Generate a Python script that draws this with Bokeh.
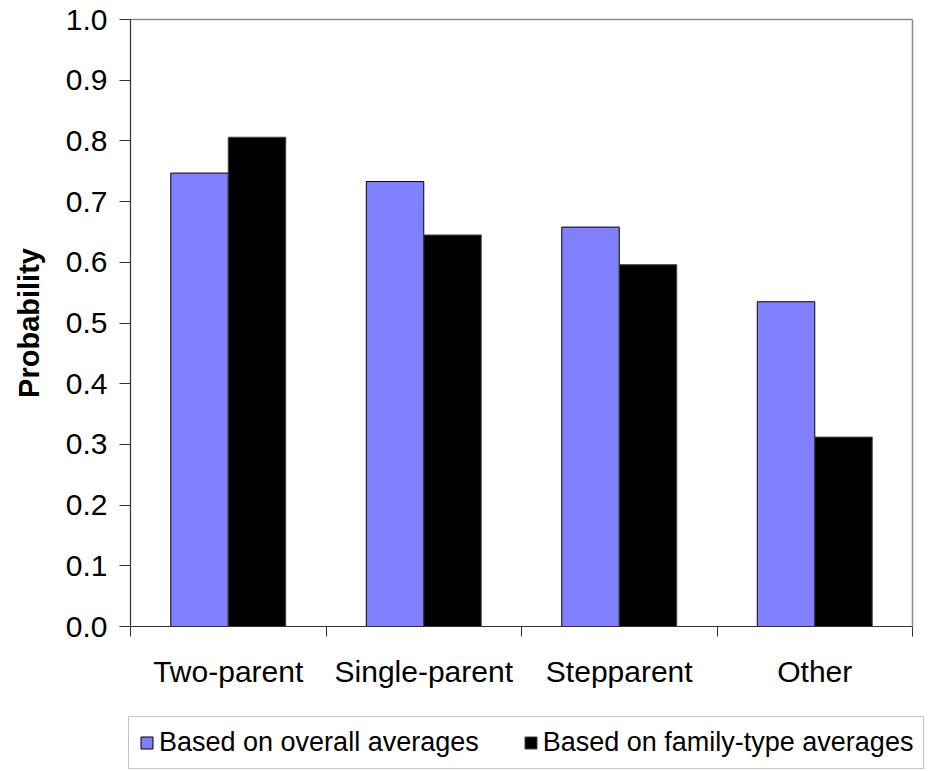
import math
from bokeh.plotting import figure
from bokeh.models import (Range1d, FixedTicker, NumeralTickFormatter, Legend,
                          LegendItem, ColumnDataSource, LinearAxis, Label)
from bokeh.embed import file_html
from bokeh.resources import INLINE

# ---- data ----
categories = ["Two-parent", "Single-parent", "Stepparent", "Other"]
overall_avg = [0.747, 0.733, 0.658, 0.535]
family_type_avg = [0.806, 0.645, 0.596, 0.312]
series_names = ["Based on overall averages", "Based on family-type averages"]
y_ticks = [0.0, 0.1, 0.2, 0.3, 0.4, 0.5, 0.6, 0.7, 0.8, 0.9, 1.0]
y_title = "Probability"

FONT = "Liberation Sans"
BAR_W = 0.294
BLUE = "#8080FF"
GRAY = "#8c8c8c"
DARK = "#333333"

n = len(categories)
centers = [i + 0.5 for i in range(n)]
bounds = [float(i) for i in range(n + 1)]
y_lo, y_hi = y_ticks[0], y_ticks[-1]

src = ColumnDataSource(dict(
    x1=[c - BAR_W / 2 for c in centers],
    x2=[c + BAR_W / 2 for c in centers],
    overall=overall_avg,
    family=family_type_avg,
))

# layout geometry (pixels): plotting area 130..912 x 19..626, canvas 928x771
W, H = 928, 771
L, R, T, B = 130, 912, 19, 626
px_x = (R - L) / n
px_y = (B - T) / (y_hi - y_lo)
x_range = Range1d(-L / px_x, n + (W - R) / px_x)
y_range = Range1d(y_lo - (H - B) / px_y, y_hi + T / px_y)

p = figure(width=W, height=H, output_backend="svg", toolbar_location=None,
           x_range=x_range, y_range=y_range,
           x_axis_location=None, y_axis_location=None, min_border=0)
p.background_fill_color = "white"
p.border_fill_color = "white"
p.outline_line_color = None
p.grid.visible = False

r1 = p.vbar(x="x1", top="overall", width=BAR_W, source=src,
            fill_color=BLUE, line_color="black", line_width=1)
r2 = p.vbar(x="x2", top="family", width=BAR_W, source=src,
            fill_color="black", line_color="#404040", line_width=1)

# top and right borders of the plotting area
top_ax = LinearAxis(fixed_location=y_hi, bounds=(0, n), ticker=FixedTicker(ticks=[]),
                    major_label_text_font_size="0px", axis_line_color=GRAY,
                    axis_line_width=1.5)
right_ax = LinearAxis(fixed_location=n, bounds=(y_lo, y_hi), ticker=FixedTicker(ticks=[]),
                      major_label_text_font_size="0px", axis_line_color=GRAY,
                      axis_line_width=1.5)
p.add_layout(top_ax, "above")
p.add_layout(right_ax, "right")

# x axis at y = 0
xa = LinearAxis(fixed_location=y_lo, bounds=(0, n),
                ticker=FixedTicker(ticks=centers, minor_ticks=bounds))
xa.major_label_overrides = {c: nm for c, nm in zip(centers, categories)}
xa.major_tick_out = 0
xa.major_tick_in = 0
xa.minor_tick_out = 10
xa.minor_tick_in = 0
xa.minor_tick_line_color = DARK
xa.axis_line_color = DARK
xa.axis_line_width = 1.2
xa.major_label_standoff = 18
xa.major_label_text_font = FONT
xa.major_label_text_font_size = "30px"
xa.major_label_text_color = "black"
p.add_layout(xa, "below")

# y axis at x = 0
ya = LinearAxis(fixed_location=0, bounds=(y_lo, y_hi), ticker=FixedTicker(ticks=y_ticks),
                formatter=NumeralTickFormatter(format="0.0"))
ya.major_tick_out = 11
ya.major_tick_in = 0
ya.minor_tick_line_color = None
ya.major_tick_line_color = DARK
ya.axis_line_color = DARK
ya.axis_line_width = 1.2
ya.major_label_standoff = 12
ya.major_label_text_font = FONT
ya.major_label_text_font_size = "30px"
ya.major_label_text_color = "black"
p.add_layout(ya, "left")

p.add_layout(Label(x=28, x_units="screen", y=(y_lo + y_hi) / 2, text=y_title,
                   angle=math.pi / 2, text_align="center", text_baseline="middle",
                   text_font=FONT, text_font_style="bold", text_font_size="29px",
                   text_color="black"))

legend = Legend(items=[LegendItem(label=series_names[0], renderers=[r1]),
                       LegendItem(label=series_names[1], renderers=[r2])],
                orientation="horizontal", location=(128, 2))
legend.margin = 0
legend.glyph_width = 15
legend.glyph_height = 15
legend.label_standoff = 5
legend.spacing = 44
legend.padding = 10
legend.label_text_font = FONT
legend.label_text_font_size = "27px"
legend.label_text_color = "black"
legend.border_line_color = GRAY
legend.border_line_width = 1.5
legend.background_fill_color = "white"
legend.background_fill_alpha = 1.0
p.add_layout(legend)

open("out.html", "w").write(file_html(p, INLINE))
